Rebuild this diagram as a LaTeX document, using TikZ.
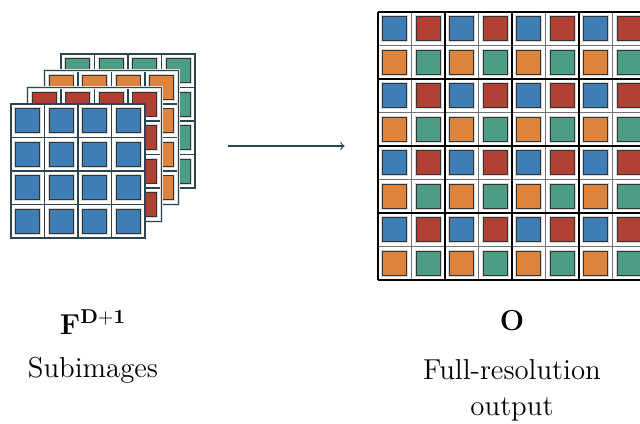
\documentclass[tikz,border=0pt]{standalone}
\usepackage{amsmath}
\usepackage{amssymb}
\usepackage{tikz}

\definecolor{cblue}{RGB}{62,126,183}
\definecolor{cred}{RGB}{177,63,50}
\definecolor{corange}{RGB}{222,131,59}
\definecolor{cgreen}{RGB}{75,158,133}
\definecolor{slate}{RGB}{43,69,82}

\begin{document}
\begin{tikzpicture}[x=0.5pt, y=-0.5pt, >=to]
\tikzstyle{pix}=[draw=black!80, line width=0.5pt, minimum size=12pt, inner sep=0pt, preaction={draw=black!15, line width=1.4pt}]
\tikzstyle{frame}=[draw=slate, line width=0.8pt]
\tikzstyle{thin}=[draw=black!55, line width=0.6pt]
\tikzstyle{thick}=[draw=black, line width=0.9pt]
\tikzstyle{lbl}=[font=\Large, inner sep=0pt]
\useasboundingbox (0,0) rectangle (640,423);

% subimages, back to front
\foreach \k/\c in {0/cgreen,1/corange,2/cred,3/cblue}
{
\pgfmathsetmacro{\ox}{61-16.67*\k}
\pgfmathsetmacro{\oy}{54+16.67*\k}
\fill[white] (\ox,\oy) rectangle ++(134,134);
\foreach \i in {0,...,3}
\foreach \j in {0,...,3}
{
\node[pix, fill=\c] (s\k-\i-\j) at (\ox+16.75+33.5*\i, \oy+16.75+33.5*\j) {};
}
\foreach \t in {33.5,67,100.5}
{
\draw[frame] (\ox+\t,\oy) -- ++(0,134);
\draw[frame] (\ox,\oy+\t) -- ++(134,0);
}
\draw[frame, preaction={draw=black!12, line width=1.4pt}] (\ox,\oy) rectangle ++(134,134);
}

% full-resolution output, 2x2 blocks
\fill[white] (378,12) rectangle (646,280);
\foreach \i in {0,...,3}
\foreach \j in {0,...,3}
{
\node[pix, fill=cblue] (o\i-\j-a) at (378+67*\i+16.75, 12+67*\j+16.75) {};
\node[pix, fill=cred] (o\i-\j-b) at (378+67*\i+50.25, 12+67*\j+16.75) {};
\node[pix, fill=corange] (o\i-\j-c) at (378+67*\i+16.75, 12+67*\j+50.25) {};
\node[pix, fill=cgreen] (o\i-\j-d) at (378+67*\i+50.25, 12+67*\j+50.25) {};
}
\foreach \t in {33.5,100.5,167.5,234.5}
{
\draw[thin] (378+\t,12) -- ++(0,268);
\draw[thin] (378,12+\t) -- ++(268,0);
}
\foreach \t in {0,67,134,201,268}
{
\draw[thick] (378+\t,12) -- ++(0,268);
\draw[thick] (378,12+\t) -- ++(268,0);
}

\node[minimum width=92pt, minimum height=92pt, inner sep=0pt] (subs) at (103,146) {};
\node[minimum width=134pt, minimum height=134pt, inner sep=0pt] (full) at (512,146) {};
\draw[->, slate, line width=0.6pt, shorten <=16.5pt, shorten >=16.5pt] (subs) -- (full);

\node[lbl] (fsym) at (93,322) {$\mathbf{F}^{\mathbf{D+1}}$};
\node[lbl] (subl) at (93,370) {Subimages};
\node[lbl] (osym) at (512,321) {$\mathbf{O}$};
\node[lbl, align=center] (outl) at (512,390) {Full-resolution\\output};
\end{tikzpicture}
\end{document}
